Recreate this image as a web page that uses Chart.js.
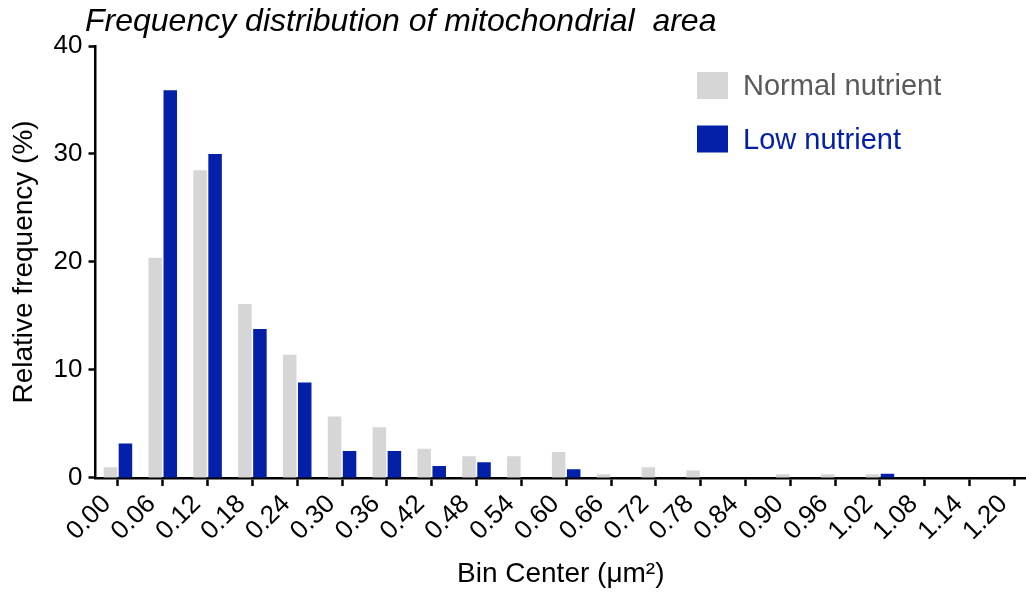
<!DOCTYPE html>
<html>
<head>
<meta charset="utf-8">
<script src="https://cdn.jsdelivr.net/npm/chart.js@4"></script>
<style>
  html, body { margin: 0; padding: 0; background: #fff; }
</style>
</head>
<body>
<canvas id="freqChart" width="1026" height="592"></canvas>
<script>
var binCenters = [0.00, 0.06, 0.12, 0.18, 0.24, 0.30, 0.36, 0.42, 0.48, 0.54, 0.60,
                  0.66, 0.72, 0.78, 0.84, 0.90, 0.96, 1.02, 1.08, 1.14, 1.20];
var normalNutrient = [1.0, 20.4, 28.5, 16.1, 11.4, 5.7, 4.7, 2.7, 2.0, 2.0, 2.4,
                      0.35, 1.0, 0.7, 0, 0.35, 0.35, 0.35, 0, 0, 0];
var lowNutrient = [3.2, 35.9, 30.0, 13.8, 8.85, 2.5, 2.5, 1.1, 1.45, 0, 0.8,
                   0, 0, 0, 0, 0, 0, 0.4, 0, 0, 0];
var seriesNames = ["Normal nutrient", "Low nutrient"];

var FONT = "'Liberation Sans', Arial, Helvetica, sans-serif";
var GRAY = "#d6d6d6";
var BLUE = "#0420a8";

function toPoints(values) {
  return binCenters.map(function (x, i) { return { x: x, y: values[i] }; });
}

// title and legend drawn by hand - the stock plugins can't sit where Prism put them
var decorations = {
  id: "decorations",
  afterDraw: function (chart) {
    var c = chart.ctx;
    c.save();
    c.fillStyle = "#000";
    c.font = "italic 32px " + FONT;
    c.textBaseline = "alphabetic";
    c.fillText("Frequency distribution of mitochondrial  area", 85, 31);
    var textColors = ["#5a5a5a", BLUE];
    chart.data.datasets.forEach(function (ds, i) {
      var y = 72 + i * 53.5;
      c.fillStyle = ds.backgroundColor;
      c.fillRect(697, y, 31, 27);
      c.fillStyle = textColors[i];
      c.font = "29px " + FONT;
      c.fillText(ds.label, 743, y + 23);
    });
    c.restore();
  }
};

new Chart(document.getElementById("freqChart"), {
  type: "bar",
  data: {
    datasets: [
      { label: seriesNames[0], data: toPoints(normalNutrient), backgroundColor: GRAY },
      { label: seriesNames[1], data: toPoints(lowNutrient), backgroundColor: BLUE }
    ]
  },
  options: {
    responsive: false,
    animation: false,
    layout: { padding: { top: 46, left: 4, right: 0, bottom: 0 } },
    datasets: { bar: { categoryPercentage: 0.67, barPercentage: 0.9 } },
    plugins: {
      legend: { display: false },
      tooltip: { enabled: false }
    },
    scales: {
      x: {
        type: "linear",
        offset: false,
        min: -0.03,
        max: 1.2155,
        grid: { offset: false, drawOnChartArea: false, tickLength: 8, tickWidth: 2.5, tickColor: "#000" },
        border: { color: "#000", width: 2.5 },
        ticks: {
          autoSkip: false,
          minRotation: 45,
          maxRotation: 45,
          padding: 3,
          labelOffset: -11,
          color: "#000",
          font: { family: FONT, size: 26 },
          callback: function (v) { return v.toFixed(2); }
        },
        afterBuildTicks: function (scale) {
          scale.ticks = binCenters.map(function (v) { return { value: v }; });
        },
        afterFit: function (scale) {
          // let the axis run off the right edge like the original
          scale.paddingLeft = 0;
          scale.paddingRight = 0;
        },
        title: {
          display: true,
          text: "Bin Center (\u03bcm\u00b2)",
          color: "#000",
          font: { family: FONT, size: 28 },
          padding: { top: 7.6, bottom: 1 }
        }
      },
      y: {
        min: 0,
        max: 40,
        ticks: { stepSize: 10, padding: 6, color: "#000", font: { family: FONT, size: 26 } },
        grid: { drawOnChartArea: false, tickLength: 7, tickWidth: 2.5, tickColor: "#000" },
        border: { color: "#000", width: 2.5 },
        title: {
          display: true,
          text: "Relative frequency (%)",
          color: "#000",
          font: { family: FONT, size: 28 },
          padding: { top: 3, bottom: 7 }
        }
      }
    }
  },
  plugins: [decorations]
});
</script>
</body>
</html>
